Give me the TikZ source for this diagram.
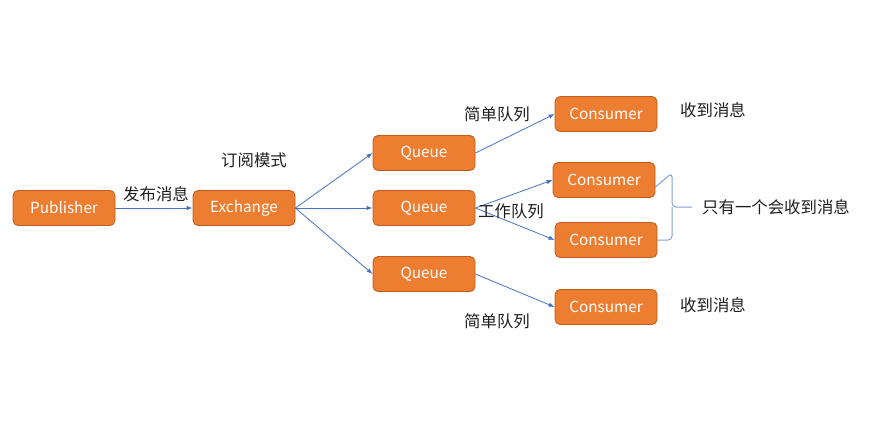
\documentclass[tikz,border=0pt]{standalone}
\usepackage{fontspec}
\setmainfont{Noto Sans CJK SC}
\usetikzlibrary{arrows.meta}
\definecolor{boxfill}{RGB}{237,125,49}
\definecolor{boxline}{RGB}{190,92,28}
\definecolor{arrowc}{RGB}{68,114,196}
\definecolor{bracec}{RGB}{130,160,215}
\definecolor{labc}{RGB}{30,30,30}
\begin{document}
\begin{tikzpicture}[x=1pt,y=-1pt,
  box/.style={draw=boxline, line width=0.8pt, fill=boxfill, rounded corners=5pt,
    minimum width=102pt, minimum height=35pt, inner sep=0pt,
    text=white, font=\fontsize{15.3}{18}\selectfont},
  lab/.style={text=labc, font=\fontsize{16.4}{19}\selectfont, inner sep=0pt},
  conn/.style={draw=arrowc, line width=0.8pt, -{Latex[length=6pt,width=4.5pt]}}]
\useasboundingbox (0,0) rectangle (881,436);
\node[box] (pub) at (64,208) {Publisher};
\node[box] (ex) at (244,208) {Exchange};
\node[box] (q1) at (424,153) {Queue};
\node[box] (q2) at (424,208) {Queue};
\node[box] (q3) at (424,274) {Queue};
\node[box] (c1) at (606,114) {Consumer};
\node[box] (c2) at (604,180) {Consumer};
\node[box] (c3) at (606,240) {Consumer};
\node[box] (c4) at (606,307) {Consumer};
\draw[conn] (pub.east) -- (ex.west);
\draw[conn] (ex.east) -- (q1.west);
\draw[conn] (ex.east) -- (q2.west);
\draw[conn] (ex.east) -- (q3.west);
\draw[conn] (q1.east) -- (c1.west);
\draw[conn] (q2.east) -- (c2.west);
\draw[conn] (q2.east) -- (c3.west);
\draw[conn] (q3.east) -- (c4.west);
\node[lab] (l1) at (156,194) {发布消息};
\node[lab] (l2) at (254,160) {订阅模式};
\node[lab] (l3) at (497,114) {简单队列};
\node[lab] (l4) at (511,211) {工作队列};
\node[lab] (l5) at (497,321) {简单队列};
\node[lab] (l6) at (713,110) {收到消息};
\node[lab] (l7) at (713,305) {收到消息};
\node[lab] (l8) at (776,207) {只有一个会收到消息};
\coordinate (tip) at (692,207);
\draw[bracec, line width=1pt, rounded corners=4pt]
  ([yshift=-7pt]c2.east) -- (672,173) -- (672,207) -- (tip);
\draw[bracec, line width=1pt, rounded corners=4pt]
  (c3.east) -- (672,240) -- (672,207);
\end{tikzpicture}
\end{document}
